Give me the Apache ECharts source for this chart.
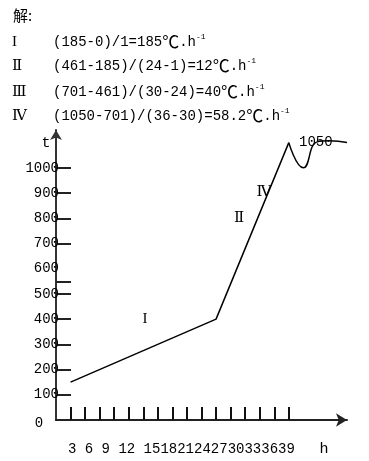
<!DOCTYPE html>
<html><head><meta charset="utf-8">
<script src="https://cdn.jsdelivr.net/npm/echarts@6/dist/echarts.min.js"></script>
<style>html,body{margin:0;padding:0;background:#fff}#c{width:369px;height:461px}</style>
</head><body><div id="c"></div>
<script>
// ---- data ----
const stageNames = ['I', 'Ⅱ', 'Ⅲ', 'Ⅳ'];
const tempStart = [0, 185, 461, 701];
const tempEnd = [185, 461, 701, 1050];
const timeStart = [0, 1, 24, 30];
const timeEnd = [1, 24, 30, 36];
const rates = ['185', '12', '40', '58.2'];
const rateUnit = '℃';
const xTickValues = [1, 2, 3, 4, 5, 6, 7, 8, 9, 10, 11, 12, 13, 14, 15, 16];
const xTickLabels = ['3', '6', '9', '12', '15', '18', '21', '24', '27', '30', '33', '36', '39'];
const yTickValues = [100, 200, 300, 400, 500, 550, 700, 800, 900, 1000];
const yLabelValues = [100, 200, 300, 400, 500, 600, 700, 800, 900, 1000];
const rampData = [[1, 150], [11, 400], [16, 1100]];
const soakData = [[16, 1100], [17, 1000], [17.95, 1103], [18.8, 1107], [20, 1100]];
const peakLabel = '1050';
const xName = 'h', yName = 't', zeroLabel = '0', title = '解:';

// ---- render ----
const MONO = "'Liberation Mono', 'Noto Sans CJK SC', monospace";
const CJK = "'Noto Sans CJK SC', sans-serif";
const SERIF = "'Liberation Serif', 'DejaVu Serif', 'Noto Sans CJK SC', serif";
const chart = echarts.init(document.getElementById('c'));

const graphics = [];
graphics.push({ type: 'text', x: 13, y: 15, style: { text: title, font: '15px ' + CJK, fill: '#000', verticalAlign: 'middle' } });
const rowY = [42, 66, 92, 116];
stageNames.forEach((n, i) => {
  const den = timeStart[i] === 0 ? String(timeEnd[i]) : '(' + timeEnd[i] + '-' + timeStart[i] + ')';
  const formula = '(' + tempEnd[i] + '-' + tempStart[i] + ')/' + den + '=' + rates[i];
  graphics.push({ type: 'text', x: 12, y: rowY[i], style: { text: n, font: '15px ' + SERIF, fill: '#000', verticalAlign: 'middle' } });
  graphics.push({
    type: 'text', x: 53, y: rowY[i],
    style: {
      text: '{m|' + formula + '}{c|' + rateUnit + '}{m|.h}{s|-1}',
      fill: '#000', verticalAlign: 'middle',
      rich: {
        m: { fontFamily: MONO, fontSize: 14, fill: '#000', lineHeight: 18 },
        c: { fontFamily: CJK, fontSize: 17, fill: '#000', lineHeight: 18 },
        s: { fontFamily: MONO, fontSize: 8, fill: '#000', verticalAlign: 'top' }
      }
    }
  });
});
const xLabelText = xTickLabels.slice(0, 5).join(' ') + xTickLabels.slice(5).join('');
graphics.push({ type: 'text', x: 68, y: 449, style: { text: xLabelText, font: '14px ' + MONO, fill: '#000', verticalAlign: 'middle' } });
graphics.push({ type: 'text', x: 324, y: 449, style: { text: xName, font: '15px ' + MONO, fill: '#000', verticalAlign: 'middle', align: 'center' } });
graphics.push({ type: 'text', x: 46, y: 143, style: { text: yName, font: '15px ' + MONO, fill: '#000', verticalAlign: 'middle', align: 'center' } });
graphics.push({ type: 'text', x: 39, y: 423, style: { text: zeroLabel, font: '14px ' + MONO, fill: '#000', verticalAlign: 'middle', align: 'center' } });
graphics.push({ type: 'text', x: 145, y: 319, style: { text: stageNames[0], font: '15px ' + SERIF, fill: '#000', verticalAlign: 'middle', align: 'center' } });
graphics.push({ type: 'text', x: 239, y: 218, style: { text: stageNames[1], font: '15px ' + SERIF, fill: '#000', verticalAlign: 'middle', align: 'center' } });
graphics.push({ type: 'text', x: 264, y: 192, style: { text: stageNames[3], font: '15px ' + SERIF, fill: '#000', verticalAlign: 'middle', align: 'center' } });
graphics.push({ type: 'text', x: 299, y: 142, style: { text: peakLabel, font: '14px ' + MONO, fill: '#000', verticalAlign: 'middle' } });

chart.setOption({
  animation: false,
  backgroundColor: '#fff',
  grid: { left: 56, right: 22, top: 130, bottom: 41, containLabel: false },
  xAxis: {
    type: 'value', min: 0, max: 20,
    axisLine: { show: true, symbol: ['none', 'arrow'], symbolSize: [10, 11], lineStyle: { color: '#222', width: 2 } },
    axisTick: { show: true, inside: true, length: 13, customValues: xTickValues, lineStyle: { color: '#111', width: 2 } },
    axisLabel: { show: false },
    splitLine: { show: false }
  },
  yAxis: {
    type: 'value', min: 0, max: 1150,
    axisLine: { show: true, symbol: ['none', 'arrow'], symbolSize: [9, 10], lineStyle: { color: '#333', width: 2 } },
    axisTick: { show: true, inside: true, length: 15, customValues: yTickValues, lineStyle: { color: '#222', width: 2 } },
    axisLabel: { show: true, customValues: yLabelValues, margin: -3, fontFamily: MONO, fontSize: 14, color: '#000', formatter: v => String(v) },
    splitLine: { show: false }
  },
  series: [
    { type: 'line', data: rampData, showSymbol: false, lineStyle: { color: '#000', width: 1.5 } },
    { type: 'line', data: soakData, showSymbol: false, smooth: 0.5, lineStyle: { color: '#000', width: 1.5 } }
  ],
  graphic: graphics
});
</script></body></html>
